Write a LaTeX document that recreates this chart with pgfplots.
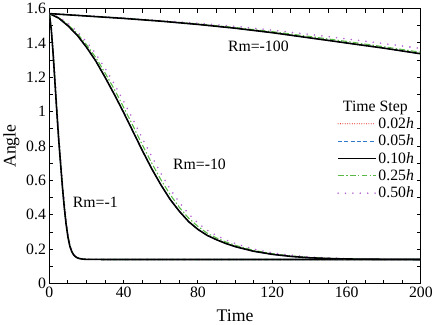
\documentclass[border=0pt]{standalone}
\usepackage{pgfplots}
\pgfplotsset{compat=1.18}
\usepackage{pgfplotstable}
\usepackage{fontspec}
\setmainfont{Liberation Serif}

\definecolor{cred}{RGB}{230,30,30}
\definecolor{cblue}{RGB}{50,120,200}
\definecolor{cgreen}{RGB}{90,185,70}
\definecolor{cpurple}{RGB}{180,100,210}

% columns: t, f = 0.02h/0.05h/0.10h (overlapping), g = 0.25h, p = 0.50h
\pgfplotstableread{
t   f      g      p
0   1.571  1.571  1.571
1   1.480  1.490  1.500
2   1.340  1.355  1.370
3   1.170  1.190  1.210
4   1.000  1.020  1.040
5   0.840  0.860  0.880
6   0.700  0.720  0.740
7   0.565  0.582  0.600
8   0.445  0.462  0.480
9   0.345  0.360  0.375
10  0.270  0.280  0.290
11  0.218  0.225  0.232
12  0.187  0.190  0.196
13  0.168  0.171  0.174
14  0.157  0.158  0.160
15  0.150  0.151  0.152
16  0.146  0.146  0.147
18  0.142  0.142  0.142
20  0.141  0.141  0.141
30  0.140  0.140  0.140
200 0.140  0.140  0.140
}\rmone

\pgfplotstableread{
t   f      g      p
0   1.571  1.571  1.571
5   1.545  1.548  1.551
10  1.500  1.507  1.515
15  1.445  1.455  1.467
20  1.375  1.390  1.408
25  1.295  1.315  1.337
30  1.200  1.225  1.253
35  1.100  1.130  1.160
40  0.995  1.025  1.060
45  0.885  0.918  0.955
50  0.775  0.808  0.846
55  0.670  0.703  0.742
60  0.575  0.605  0.642
65  0.490  0.518  0.550
70  0.420  0.443  0.472
75  0.360  0.380  0.405
80  0.315  0.332  0.352
85  0.280  0.293  0.310
90  0.255  0.265  0.279
95  0.233  0.242  0.254
100 0.215  0.223  0.233
110 0.188  0.193  0.200
120 0.170  0.174  0.179
130 0.158  0.161  0.165
140 0.150  0.152  0.155
150 0.146  0.147  0.149
160 0.143  0.144  0.145
180 0.141  0.141  0.142
200 0.140  0.140  0.140
}\rmten

\pgfplotstableread{
t   f      g      p
0   1.571  1.571  1.571
20  1.557  1.557  1.558
40  1.543  1.544  1.545
60  1.527  1.528  1.530
80  1.508  1.511  1.515
100 1.486  1.490  1.497
120 1.460  1.466  1.475
140 1.430  1.438  1.450
160 1.400  1.409  1.424
180 1.370  1.378  1.397
200 1.337  1.346  1.368
}\rmhundred

\tikzset{
  s02/.style={cred, line width=1.1pt, line cap=round, dash pattern=on 0pt off 2.4pt},
  s05/.style={cblue, line width=1.1pt, dash pattern=on 4pt off 2.4pt},
  s10/.style={black, line width=1.6pt},
  s25/.style={cgreen, line width=1.1pt, dash pattern=on 6pt off 2.2pt on 1.5pt off 2.2pt},
  s50/.style={cpurple, line width=1.8pt, line cap=round, dash pattern=on 0pt off 7.5pt},
}

\begin{document}
\begin{tikzpicture}
\begin{axis}[
    width=377pt, height=279pt, scale only axis,
    xmin=0, xmax=200, ymin=0, ymax=1.6,
    xtick={0,40,80,120,160,200},
    ytick={0,0.2,0.4,0.6,0.8,1,1.2,1.4,1.6},
    minor x tick num=3, minor y tick num=1,
    tick align=inside,
    major tick length=4pt, minor tick length=4pt,
    axis line style={line width=1.2pt},
    every tick/.style={black, line width=1pt},
    /pgf/number format/assume math mode=true,
    tick label style={font=\fontsize{16}{19}\selectfont},
    label style={font=\fontsize{18}{21}\selectfont},
    xlabel={Time}, ylabel={Angle},
    xlabel style={yshift=-5pt},
    legend cell align=left,
    legend style={draw=none, fill=none, at={(0.995,0.68)}, anchor=north east,
        font=\fontsize{16}{19}\selectfont, row sep=1pt},
    legend image code/.code={\draw[#1] (0pt,0pt) -- (38pt,0pt);},
]
\addlegendimage{empty legend}\addlegendentry{\hspace*{-36pt}Time Step}
\addlegendimage{s02}\addlegendentry{0.02\textit{h}}
\addlegendimage{s05}\addlegendentry{0.05\textit{h}}
\addlegendimage{s10}\addlegendentry{0.10\textit{h}}
\addlegendimage{s25}\addlegendentry{0.25\textit{h}}
\addlegendimage{s50}\addlegendentry{0.50\textit{h}}

% Rm = -1
\addplot[s02, forget plot] table[x=t, y=f] {\rmone};
\addplot[s05, forget plot] table[x=t, y=f] {\rmone};
\addplot[s25, forget plot] table[x=t, y=g] {\rmone};
\addplot[s50, forget plot] table[x=t, y=p] {\rmone};
\addplot[s10, forget plot] table[x=t, y=f] {\rmone};
% Rm = -10
\addplot[s02, forget plot] table[x=t, y=f] {\rmten};
\addplot[s05, forget plot] table[x=t, y=f] {\rmten};
\addplot[s25, forget plot] table[x=t, y=g] {\rmten};
\addplot[s50, forget plot] table[x=t, y=p] {\rmten};
\addplot[s10, forget plot] table[x=t, y=f] {\rmten};
% Rm = -100
\addplot[s02, forget plot] table[x=t, y=f] {\rmhundred};
\addplot[s05, forget plot] table[x=t, y=f] {\rmhundred};
\addplot[s25, forget plot] table[x=t, y=g] {\rmhundred};
\addplot[s50, forget plot] table[x=t, y=p] {\rmhundred};
\addplot[s10, forget plot] table[x=t, y=f] {\rmhundred};

\node[font=\fontsize{16}{19}\selectfont] at (axis cs:24.7,0.474) {Rm=-1};
\node[font=\fontsize{16}{19}\selectfont] at (axis cs:80.8,0.696) {Rm=-10};
\node[font=\fontsize{16}{19}\selectfont] at (axis cs:112.5,1.383) {Rm=-100};
\end{axis}
\end{tikzpicture}
\end{document}
